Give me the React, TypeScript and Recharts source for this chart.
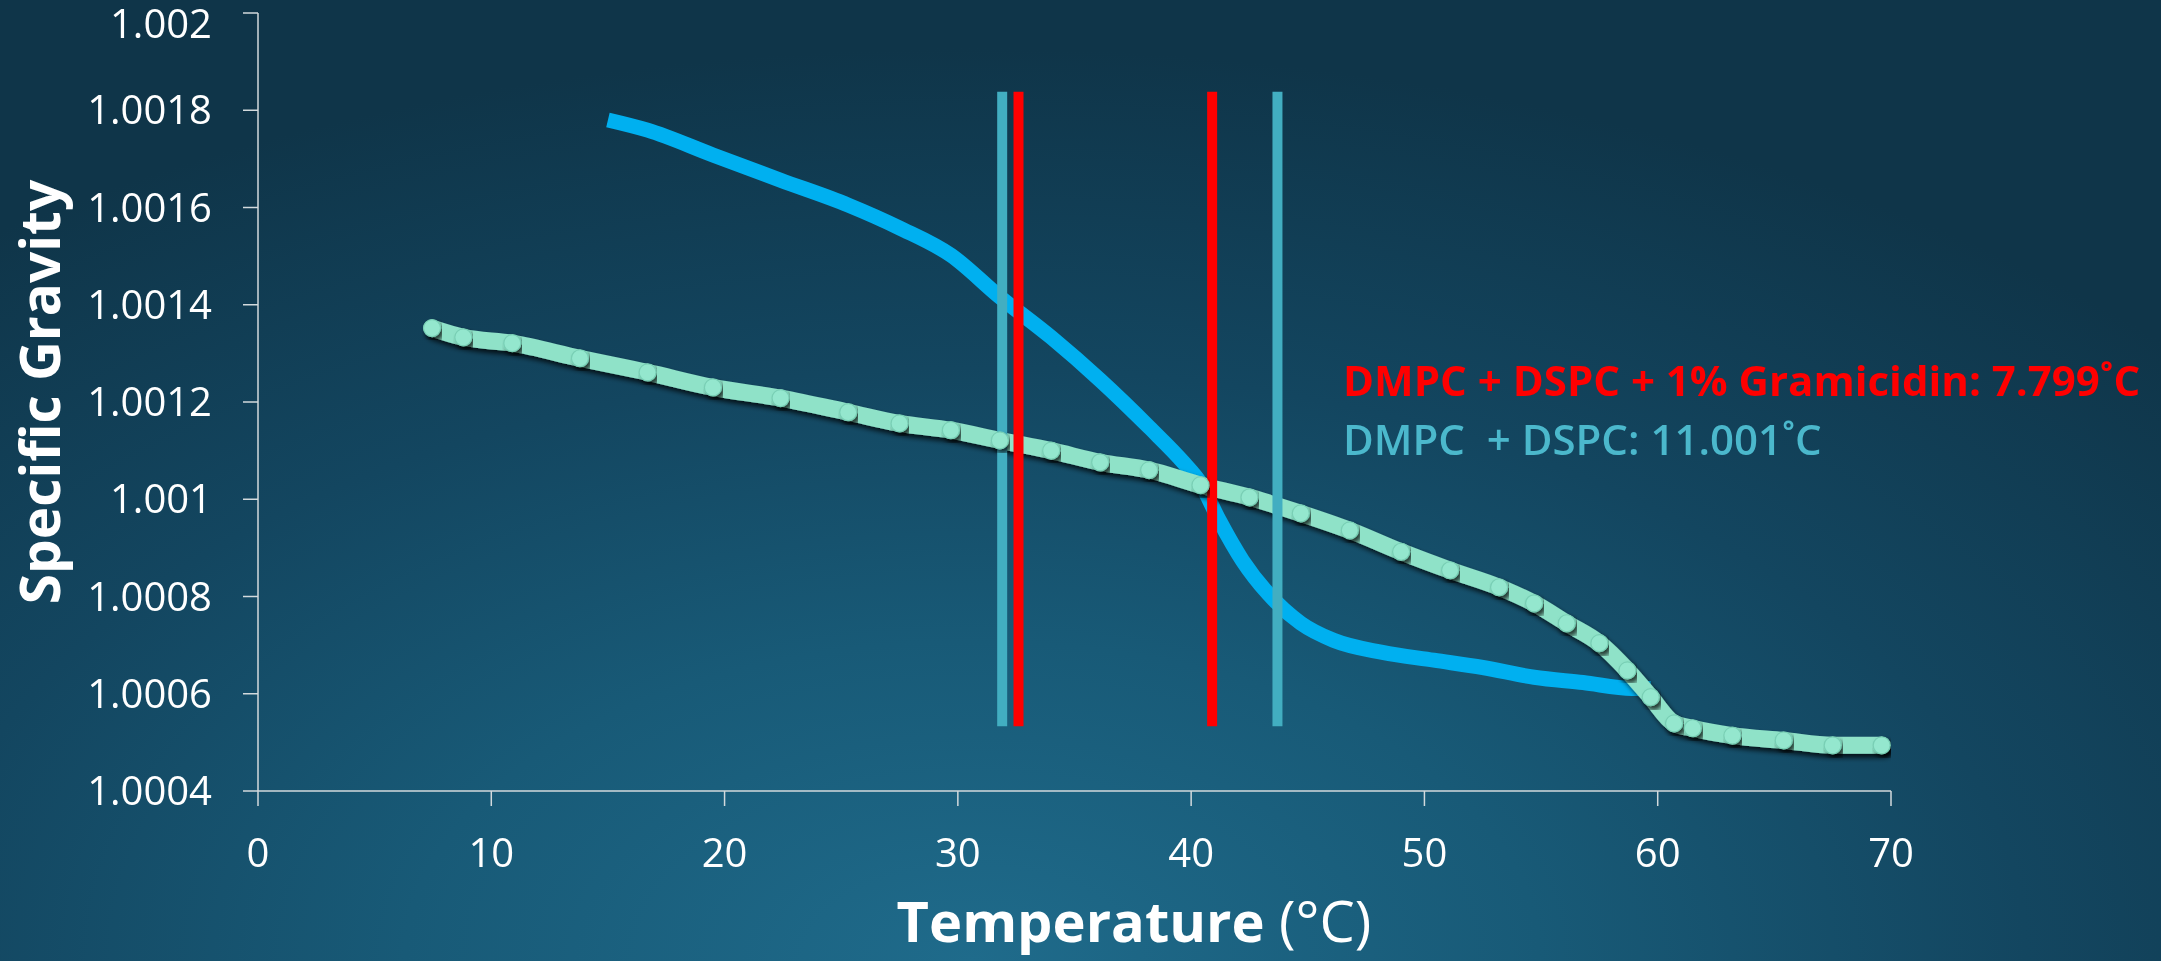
import { LineChart, Line, XAxis, YAxis } from 'recharts';

// DMPC + DSPC (bright blue stepped trace)
const pureTemp = [15.0, 16.7, 19.5, 22.4, 25.3, 27.5, 29.7, 31.8, 34.0, 36.1, 38.2, 39.7, 40.4, 41.2, 42.2, 43.3, 44.7, 46.1, 48.2, 50.4, 52.5, 54.7, 56.8, 58.9, 59.7];
const pureSG = [1.00178, 1.001759, 1.001708, 1.001656, 1.001605, 1.001558, 1.001502, 1.001416, 1.001333, 1.001245, 1.001148, 1.001074, 1.001033, 1.000957, 1.000874, 1.000806, 1.000745, 1.00071, 1.000685, 1.000669, 1.000654, 1.000634, 1.000623, 1.000611, 1.000611];

// DMPC + DSPC + 1% Gramicidin (mint beads)
const gramTemp = [7.46, 8.8, 10.9, 13.8, 16.7, 19.5, 22.4, 25.3, 27.5, 29.7, 31.8, 34.0, 36.1, 38.2, 40.4, 42.5, 44.7, 46.8, 49.0, 51.1, 53.2, 54.7, 56.1, 57.5, 58.7, 59.7, 60.7, 61.5, 63.2, 65.4, 67.5, 69.6];
const gramSG = [1.001352, 1.001333, 1.001321, 1.00129, 1.001261, 1.00123, 1.001208, 1.001179, 1.001156, 1.001142, 1.001121, 1.0011, 1.001076, 1.00106, 1.001029, 1.001004, 1.000971, 1.000936, 1.000892, 1.000854, 1.000819, 1.000786, 1.000745, 1.000704, 1.000648, 1.000593, 1.000539, 1.000529, 1.000514, 1.000504, 1.000494, 1.000494];

// transition bounds drawn as vertical bars
const redMarks = [32.6, 40.9];
const cyanMarks = [31.9, 43.7];
const markSpan = [1.000533, 1.001838];

const xTicks = [0, 10, 20, 30, 40, 50, 60, 70];
const yTicks = [1.0004, 1.0006, 1.0008, 1.001, 1.0012, 1.0014, 1.0016, 1.0018, 1.002];

const FONT = '"Open Sans", sans-serif';
const AXIS = '#d3dadd';

const toRows = (t: number[], v: number[]) => t.map((x, i) => ({ t: x, sg: v[i] }));
const markRows = (x: number) => markSpan.map((v) => ({ t: x, sg: v }));

const xTitle = () => (
  <text x={1134} y={942} textAnchor="middle" fill="#fff" fontFamily={FONT} fontSize={56} style={{ whiteSpace: 'pre' }}>
    <tspan fontWeight={700}>Temperature</tspan>
    <tspan fontWeight={400}> (°C)</tspan>
  </text>
);

const yTitle = () => (
  <text x={60} y={392} transform="rotate(-90 60 392)" textAnchor="middle" fill="#fff" fontFamily={FONT} fontWeight={700} fontSize={55}>
    Specific Gravity
  </text>
);

export default function App() {
  return (
    <div
      style={{
        position: 'fixed',
        left: 0,
        top: 0,
        width: 2161,
        height: 961,
        background: 'radial-gradient(ellipse 75% 95% at 45% 100%, #1f6b8b 0%, #185a77 35%, #134660 65%, #0f3549 100%)',
      }}
    >
      <LineChart width={2161} height={961} margin={{ top: 13, right: 270, bottom: 0, left: 0 }}>
        <defs>
          <filter id="ropeShadow" x="-5%" y="-10%" width="110%" height="130%">
            <feDropShadow dx="3" dy="4" stdDeviation="2.5" floodColor="#000" floodOpacity="0.75" />
          </filter>
        </defs>
        <XAxis
          type="number"
          dataKey="t"
          domain={[0, 70]}
          ticks={xTicks}
          allowDataOverflow
          height={170}
          tickSize={15}
          tickMargin={33}
          axisLine={{ stroke: AXIS, strokeWidth: 1.5 }}
          tickLine={{ stroke: AXIS, strokeWidth: 1.5 }}
          tick={{ fill: '#fff', fontSize: 40, fontFamily: FONT }}
          label={xTitle}
        />
        <YAxis
          type="number"
          domain={[1.0004, 1.002]}
          ticks={yTicks}
          allowDataOverflow
          width={258}
          tickSize={15}
          tickMargin={31}
          axisLine={{ stroke: AXIS, strokeWidth: 1.5 }}
          tickLine={{ stroke: AXIS, strokeWidth: 1.5 }}
          tick={{ fill: '#fff', fontSize: 40, fontFamily: FONT }}
          tickFormatter={(v: number) => String(Number(v.toFixed(4)))}
          label={yTitle}
        />
        <Line
          data={toRows(pureTemp, pureSG)}
          dataKey="sg"
          type="monotone"
          stroke="#00b0f0"
          strokeWidth={15}
          dot={false}
          activeDot={false}
          isAnimationActive={false}
        />
        <Line
          data={toRows(gramTemp, gramSG)}
          dataKey="sg"
          type="monotone"
          stroke="#8fe2c8"
          strokeWidth={17}
          strokeLinecap="round"
          strokeLinejoin="round"
          filter="url(#ropeShadow)"
          dot={{ r: 8.5, fill: '#94e7ce', stroke: '#79cfb5', strokeWidth: 1.2 }}
          activeDot={false}
          isAnimationActive={false}
        />
        {cyanMarks.map((x) => (
          <Line key={`c${x}`} data={markRows(x)} dataKey="sg" stroke="#42aec1" strokeWidth={10} dot={false} activeDot={false} isAnimationActive={false} />
        ))}
        {redMarks.map((x) => (
          <Line key={`r${x}`} data={markRows(x)} dataKey="sg" stroke="#ff0000" strokeWidth={10} dot={false} activeDot={false} isAnimationActive={false} />
        ))}
        <text x={1343} y={396} fill="#ff0000" fontFamily={FONT} fontWeight={700} fontSize={42}>
          DMPC + DSPC + 1% Gramicidin: 7.799˚C
        </text>
        <text x={1343} y={455} fill="#4bb8cc" fontFamily={FONT} fontWeight={600} fontSize={42} style={{ whiteSpace: 'pre' }}>
          DMPC  + DSPC: 11.001˚C
        </text>
      </LineChart>
    </div>
  );
}
